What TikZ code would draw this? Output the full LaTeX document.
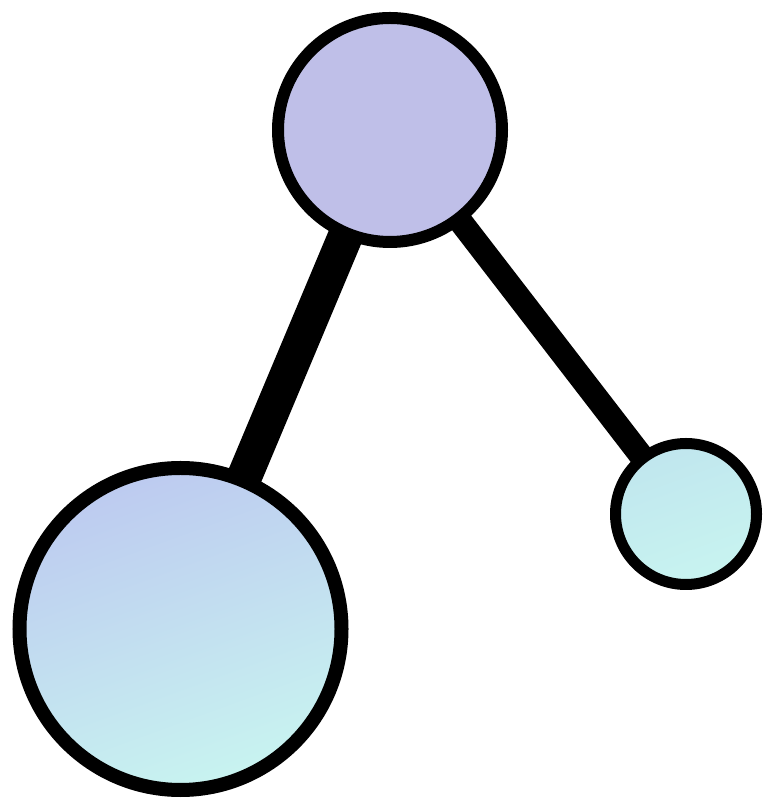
\documentclass[tikz,border=0pt]{standalone}
\usepackage{tikz}
\usetikzlibrary{shapes,positioning,backgrounds}
\usepackage{xcolor}
\definecolor{lavender}{HTML}{BFBFE8}
\definecolor{paleblue}{HTML}{BDCAF0}
\definecolor{mint}{HTML}{C8F4F0}
\definecolor{icemint}{HTML}{C0E6EE}
\begin{document}
\begin{tikzpicture}[
    bubble/.style={circle, draw=black, inner sep=0pt},
    link/.style={draw=black, line cap=butt}
]
\useasboundingbox (0,0) rectangle (15.44,16.2);

% Nodes
\node[bubble, line width=0.24cm, minimum size=4.48cm, fill=lavender] (hub) at (7.8,13.6) {};
\node[bubble, line width=0.28cm, minimum size=6.44cm, top color=paleblue, bottom color=mint, shading angle=20] (big) at (3.61,3.62) {};
\node[bubble, line width=0.22cm, minimum size=2.82cm, top color=icemint, bottom color=mint, shading angle=20] (small) at (13.72,5.92) {};

% Links
\begin{pgfonlayer}{background}
\draw[link, line width=0.7cm] (hub.center) -- (big.center);
\draw[link, line width=0.48cm] (hub.center) -- (small.center);
\end{pgfonlayer}

\end{tikzpicture}
\end{document}
